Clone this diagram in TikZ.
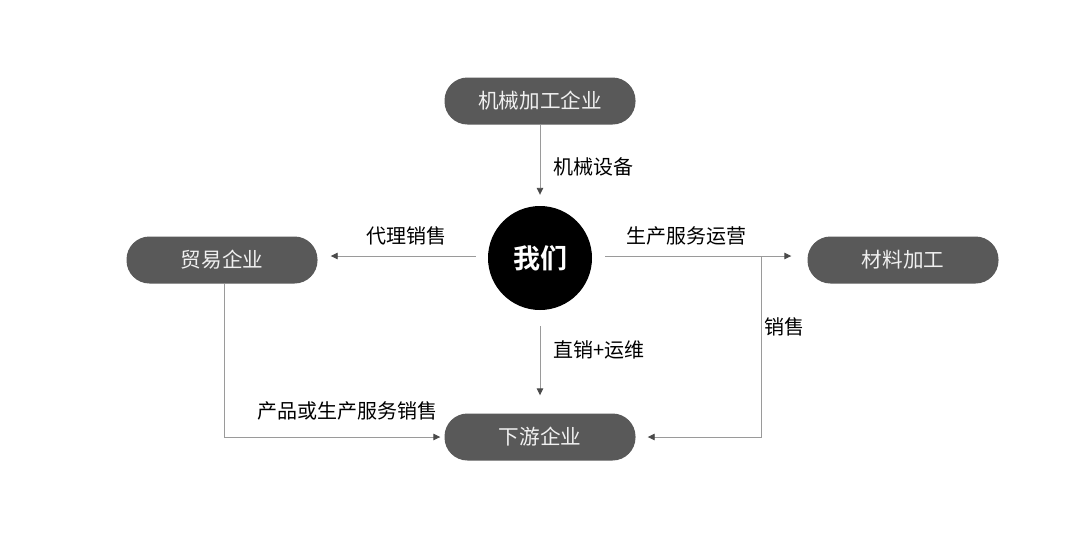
\documentclass[tikz,border=0pt]{standalone}
\usepackage{fontspec}
\newfontfamily\cjk{Noto Sans CJK SC}
\newfontfamily\cjkb{Noto Sans CJK SC}[BoldFont={* Bold}]
\usetikzlibrary{arrows.meta}
\definecolor{pillgray}{HTML}{595959}
\definecolor{linegray}{HTML}{9A9A9A}
\definecolor{tipgray}{HTML}{4A4A4A}
\definecolor{pilltext}{HTML}{F0F0F0}
\begin{document}
\begin{tikzpicture}[x=1pt,y=-1pt,
  pill/.style={draw=none,fill=pillgray,rounded corners=23pt,minimum width=191pt,minimum height=47pt,
    text=pilltext,font=\cjk\fontsize{20.6}{24}\selectfont,inner sep=0pt},
  lbl/.style={font=\cjk\fontsize{20}{24}\selectfont,text=black,inner sep=0pt},
  arr/.style={draw=linegray,line width=0.9pt,-{Triangle[length=7pt,width=6.5pt,fill=tipgray,color=tipgray]}},
  ln/.style={draw=linegray,line width=0.9pt}]
\useasboundingbox (0,0) rectangle (1080,550);
\fill[white] (0,0) rectangle (1080,550);
\node[pill] (mach) at (540,101) {机械加工企业};
\node[circle,fill=black,minimum size=104pt,inner sep=0pt,text=white,font=\cjkb\bfseries\fontsize{27}{30}\selectfont] (us) at (540,258) {我们};
\node[pill] (trade) at (222,260) {贸易企业};
\node[pill] (mat) at (903,260) {材料加工};
\node[pill] (down) at (540,437) {下游企业};
\coordinate (j) at (761,256);
\draw[arr,shorten >=11pt] (mach.south) -- (us.north);
\draw[arr,shorten <=12pt,shorten >=13pt] ([yshift=2pt]us.west) -- ([yshift=4pt]trade.east);
\draw[arr,shorten <=13pt,shorten >=16pt] ([yshift=2pt]us.east) -- ([yshift=4pt]mat.west);
\draw[arr,shorten <=16pt,shorten >=18pt] (us.south) -- (down.north);
\draw[arr,shorten >=12pt] (j) |- (down.east);
\draw[arr,shorten >=4pt] ([xshift=2pt]trade.south) |- (down.west);
\node[lbl,anchor=west] (l1) at (553,167) {机械设备};
\node[lbl] (l2) at (406,236) {代理销售};
\node[lbl] (l3) at (686,236) {生产服务运营};
\node[lbl,anchor=west] (l4) at (764,327) {销售};
\node[lbl,anchor=west] (l5) at (553,350) {直销+运维};
\node[lbl] (l6) at (347,411) {产品或生产服务销售};
\end{tikzpicture}
\end{document}
